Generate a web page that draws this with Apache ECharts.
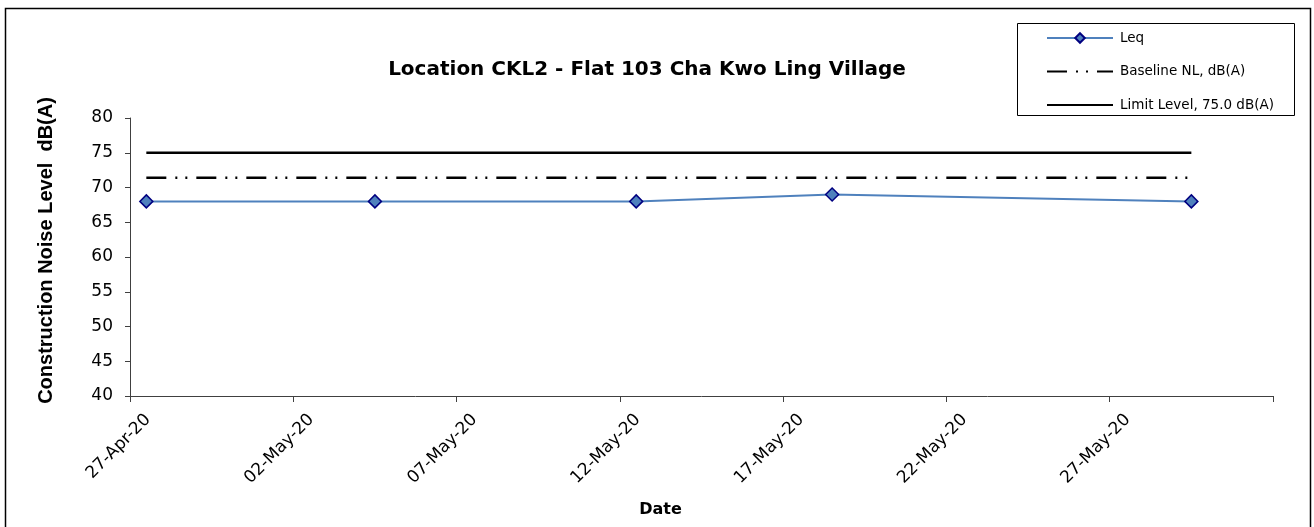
<!DOCTYPE html>
<html>
<head>
<meta charset="utf-8">
<script src="https://cdn.jsdelivr.net/npm/echarts@6/dist/echarts.min.js"></script>
<style>
  html, body { margin: 0; padding: 0; background: #fff; }
  #chart { width: 1314px; height: 527px; }
</style>
</head>
<body>
<div id="chart"></div>
<script>
  const dates = ['2020-04-27T12:00', '2020-05-04T12:00', '2020-05-12T12:00', '2020-05-18T12:00', '2020-05-29T12:00'];
  const leq = [68, 68, 68, 69, 68];
  const baseline = [71.4, 71.4, 71.4, 71.4, 71.4];
  const limit = [75, 75, 75, 75, 75];
  const yTicks = [40, 45, 50, 55, 60, 65, 70, 75, 80];
  // x axis runs 27-Apr-20 .. 01-Jun-20 in days, a tick every 5 days
  const xRange = [0, 35];

  const startDay = Date.UTC(2020, 3, 27);
  const dayMs = 86400000;
  const months = ['Jan','Feb','Mar','Apr','May','Jun','Jul','Aug','Sep','Oct','Nov','Dec'];

  function toDay(s) {
    let p = s.split(/[-T:]/).map(Number);
    return (Date.UTC(p[0], p[1] - 1, p[2], p[3], p[4]) - startDay) / dayMs;
  }
  function dayLabel(v) {
    if (v >= xRange[1]) return '';
    let d = new Date(startDay + v * dayMs);
    let dd = String(d.getUTCDate()).padStart(2, '0');
    return dd + '-' + months[d.getUTCMonth()] + '-' + String(d.getUTCFullYear()).slice(2);
  }

  const xs = dates.map(toDay);
  const pair = arr => arr.map((v, i) => [xs[i], v]);

  let myChart = echarts.init(document.getElementById('chart'));
  myChart.setOption({
    animation: false,
    title: {
      text: 'Location CKL2 - Flat 103 Cha Kwo Ling Village',
      left: 642,
      top: 55,
      textAlign: 'center',
      textStyle: {
        fontFamily: 'DejaVu Sans',
        fontWeight: 'bold',
        fontSize: 20,
        color: '#000'
      }
    },
    graphic: [{
      type: 'rect',
      shape: { x: 5.5, y: 8.5, width: 1305, height: 530 },
      style: { fill: 'none', stroke: '#000', lineWidth: 1.5 },
      silent: true
    }, {
      type: 'rect',
      shape: { x: 1017.5, y: 23.5, width: 277, height: 92 },
      style: { fill: '#fff', stroke: '#000', lineWidth: 1 },
      z: 0,
      silent: true
    }],
    legend: {
      orient: 'vertical',
      left: 1046,
      top: 31,
      padding: 0,
      itemWidth: 66,
      itemHeight: 12,
      itemGap: 19.5,
      textStyle: {
        fontFamily: 'DejaVu Sans',
        fontSize: 13.5,
        color: '#000',
        padding: [0, 0, 0, 2]
      },
      data: [
        { name: 'Leq' },
        { name: 'Baseline NL, dB(A)', itemStyle: { opacity: 0 } },
        { name: 'Limit Level, 75.0 dB(A)', itemStyle: { opacity: 0 } }
      ],
      z: 5
    },
    grid: {
      left: 130,
      right: 41,
      top: 118,
      bottom: 131,
      containLabel: false
    },
    xAxis: {
      type: 'value',
      min: xRange[0],
      max: xRange[1],
      interval: 5,
      name: 'Date',
      nameLocation: 'middle',
      nameGap: 106,
      nameTextStyle: {
        fontFamily: 'DejaVu Sans',
        fontWeight: 'bold',
        fontSize: 16,
        color: '#000',
        padding: [0, 82, 0, 0]
      },
      axisLine: { lineStyle: { color: '#404040', width: 1 } },
      axisTick: { show: true, length: 6, lineStyle: { color: '#404040' } },
      axisLabel: {
        rotate: 45,
        margin: 3,
        verticalAlign: 'top',
        lineHeight: 19,
        padding: [16, 0, 0, 0],
        color: '#000',
        fontFamily: 'DejaVu Sans',
        fontSize: 17,
        formatter: dayLabel
      },
      splitLine: { show: false }
    },
    yAxis: {
      type: 'value',
      min: yTicks[0],
      max: yTicks[yTicks.length - 1],
      interval: 5,
      name: 'Construction Noise Level  dB(A)',
      nameLocation: 'middle',
      nameGap: 74,
      nameTextStyle: {
        fontFamily: 'Arial, Liberation Sans',
        fontWeight: 'bold',
        fontSize: 20,
        color: '#000',
        padding: [0, 0, 0, 13]
      },
      axisLine: { show: true, lineStyle: { color: '#404040', width: 1 } },
      axisTick: { show: true, length: 5, lineStyle: { color: '#404040' } },
      axisLabel: {
        margin: 17,
        color: '#000',
        fontFamily: 'DejaVu Sans',
        fontSize: 17
      },
      splitLine: { show: false }
    },
    series: [{
      name: 'Leq',
      type: 'line',
      data: pair(leq),
      symbol: 'diamond',
      symbolSize: 13,
      z: 4,
      lineStyle: { color: '#4F81BD', width: 2 },
      itemStyle: { color: '#4F81BD', borderColor: '#000080', borderWidth: 1.5 }
    }, {
      name: 'Baseline NL, dB(A)',
      type: 'line',
      data: pair(baseline),
      symbol: 'none',
      z: 3,
      lineStyle: { color: '#000', width: 2.5, type: [20, 9, 2, 8, 2, 9] },
      itemStyle: { color: '#000' }
    }, {
      name: 'Limit Level, 75.0 dB(A)',
      type: 'line',
      data: pair(limit),
      symbol: 'none',
      z: 3,
      lineStyle: { color: '#000', width: 2.5 },
      itemStyle: { color: '#000' }
    }]
  });

  window.addEventListener('resize', () => {
    myChart.resize();
  });
</script>
</body>
</html>
